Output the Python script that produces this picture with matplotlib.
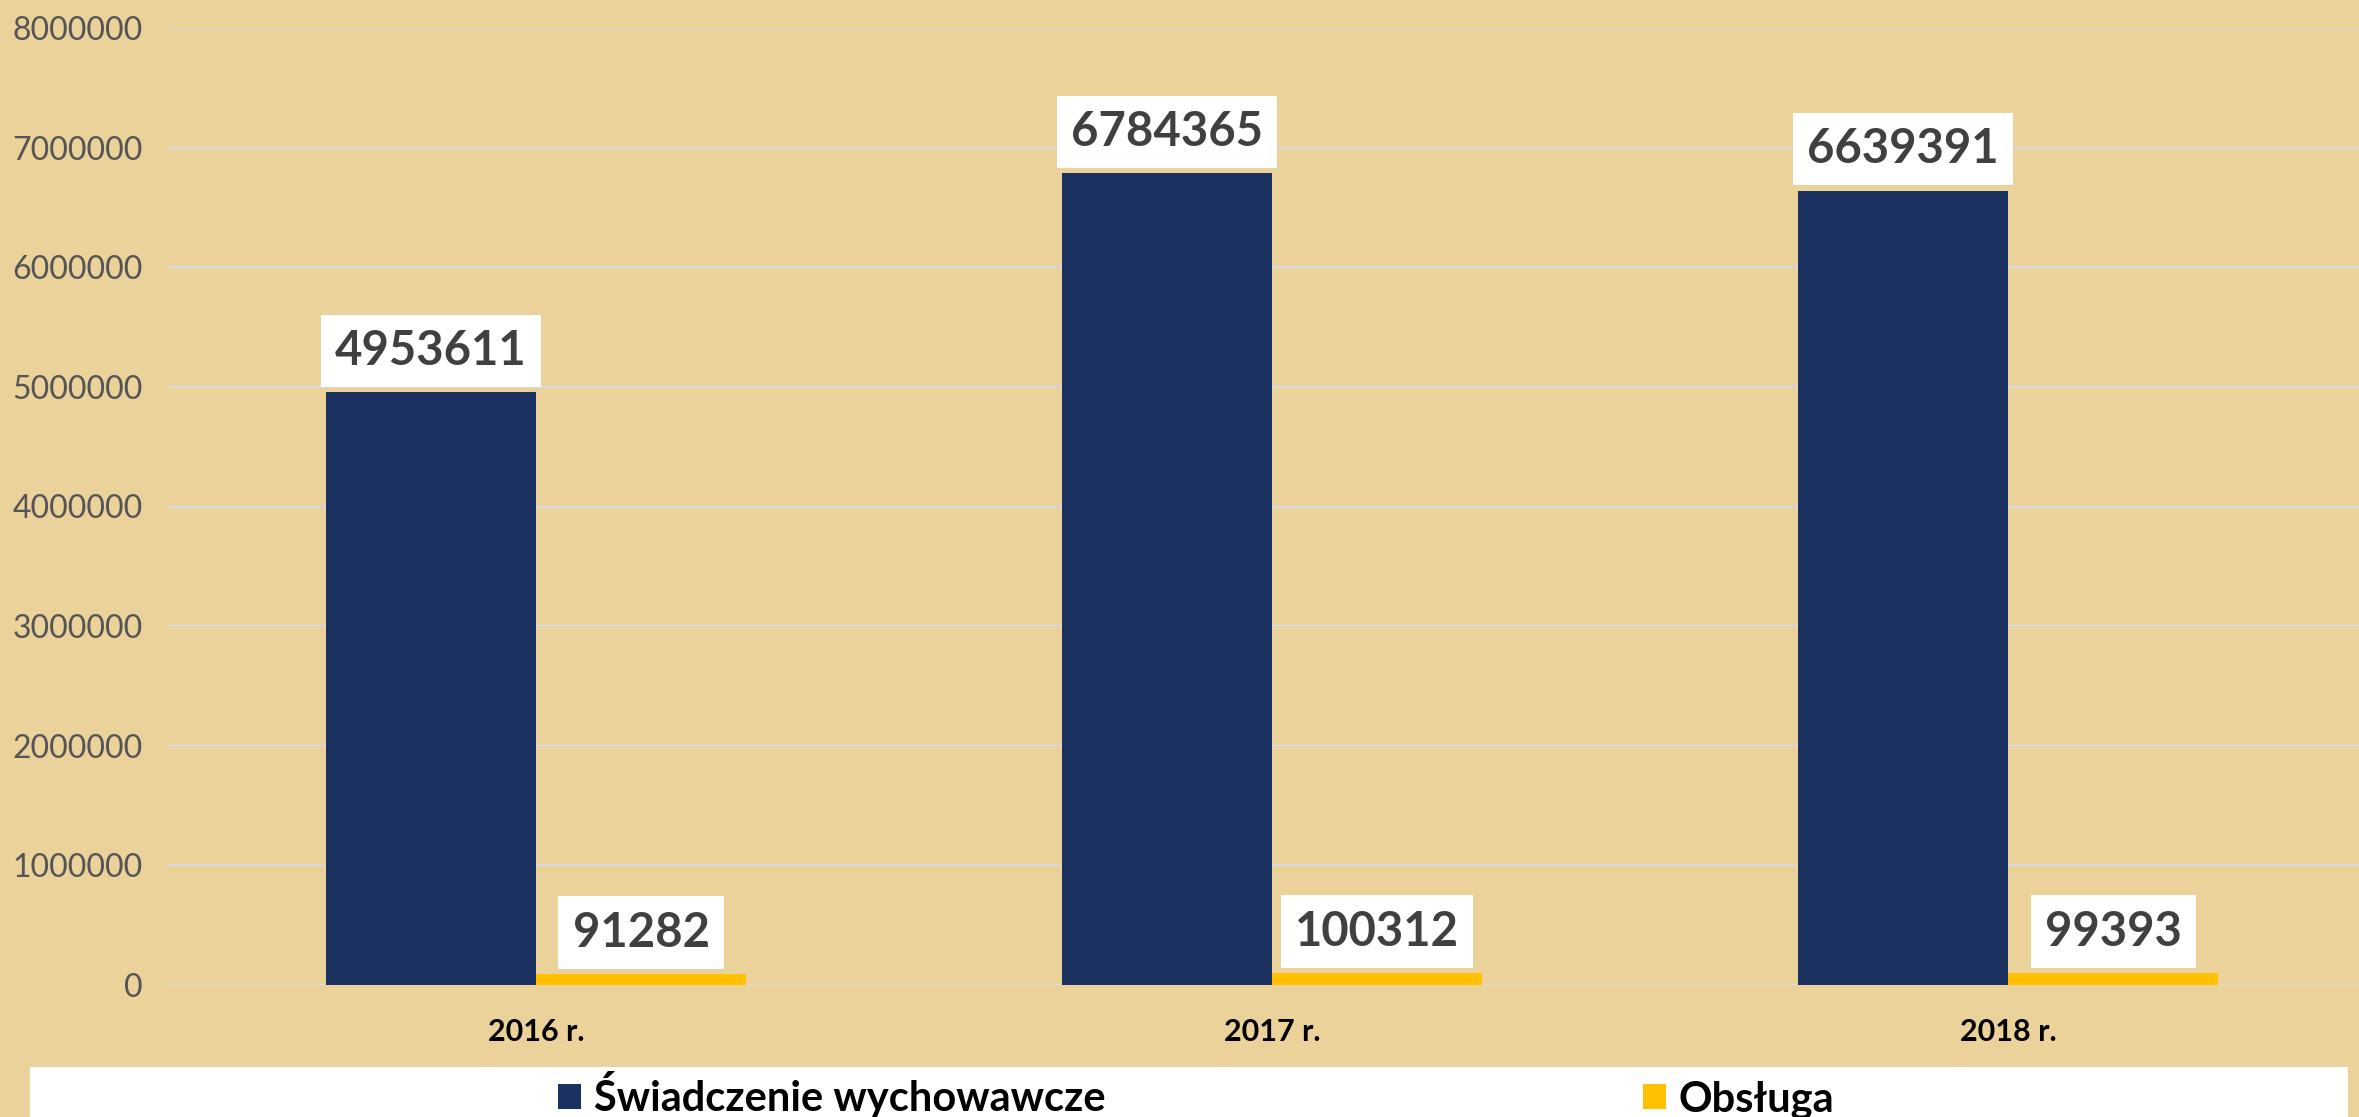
import numpy as np
import matplotlib
matplotlib.use("Agg")
import matplotlib.pyplot as plt
from matplotlib.patches import Rectangle

# --- dane ---
lata = ["2016 r.", "2017 r.", "2018 r."]
swiadczenie = [4953611, 6784365, 6639391]
obsluga = [91282, 100312, 99393]
serie = ["Świadczenie wychowawcze", "Obsługa"]
y_ticks = [0, 1000000, 2000000, 3000000, 4000000, 5000000, 6000000, 7000000, 8000000]

kolor_granat = "#1B3160"
kolor_zolty = "#FFC000"
tlo = "#EAD29A"

plt.rcParams["font.family"] = ["Lato", "DejaVu Sans"]

fig = plt.figure(figsize=(23.59, 11.17), dpi=100, facecolor=tlo)
ax = fig.add_axes([168 / 2359, 132 / 1117, (2376 - 168) / 2359, (985 - 28) / 1117])
ax.set_facecolor("none")

x = np.arange(len(lata))
w = 0.2857
b1 = ax.bar(x - w / 2, swiadczenie, w, color=kolor_granat, label=serie[0], zorder=3)
b2 = ax.bar(x + w / 2, obsluga, w, color=kolor_zolty, label=serie[1], zorder=3)

ax.set_xlim(-0.5, 2.5)
ax.set_ylim(0, 8000000)
ax.set_yticks(y_ticks)
ax.set_yticklabels([str(v) for v in y_ticks], fontsize=23, color="#555555", fontweight="normal")
ax.set_xticks(x)
ax.set_xticklabels(lata, fontsize=22, fontweight="bold", color="black")
ax.tick_params(axis="y", length=0, pad=18)
ax.tick_params(axis="x", length=0, pad=24)
ax.grid(axis="y", color="#D9D9D9", linewidth=1.6, zorder=0)
for s in ax.spines.values():
    s.set_visible(False)

# etykiety danych w białych ramkach
for bars, vals in ((b1, swiadczenie), (b2, obsluga)):
    for bar, v in zip(bars, vals):
        ax.annotate(str(v), (bar.get_x() + bar.get_width() / 2, v),
                    xytext=(0, 14), textcoords="offset points",
                    ha="center", va="bottom", fontsize=34, fontweight="bold",
                    color="#404040", zorder=5,
                    bbox=dict(boxstyle="square,pad=0.3", fc="white", ec="none"))

# legenda na białym pasku
fig.patches.append(Rectangle((30 / 2359, 0), (2348 - 30) / 2359, 50 / 1117,
                             transform=fig.transFigure, fc="white", ec="none", zorder=1))
leg = fig.legend(handles=[b1, b2], labels=serie, loc="center",
                 bbox_to_anchor=(1196 / 2359, 22 / 1117), ncol=2, frameon=False,
                 prop={"size": 30, "weight": "bold"}, handlelength=0.55, handleheight=0.55,
                 handletextpad=0.3, columnspacing=12.9)

fig.savefig("out.png", dpi=100, facecolor=tlo)
